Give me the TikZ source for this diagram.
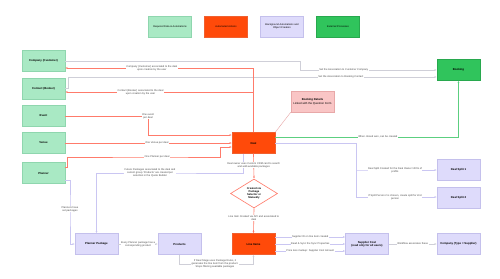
\documentclass[tikz,border=0pt]{standalone}
\usepackage{fontspec}
\setmainfont{Liberation Sans}
\usepackage{tikz}
\usetikzlibrary{arrows.meta,positioning,shapes.geometric}
\usepackage{xcolor}
\definecolor{reqgreen}{HTML}{A9E9C4}
\definecolor{reqedge}{HTML}{8FD6AE}
\definecolor{actorange}{HTML}{FF4A0A}
\definecolor{actedge}{HTML}{F06030}
\definecolor{bglav}{HTML}{DEDBFB}
\definecolor{bgedge}{HTML}{C4C0EC}
\definecolor{extgreen}{HTML}{30C45C}
\definecolor{extedge}{HTML}{28A84E}
\definecolor{pinkfill}{HTML}{F9C5C5}
\definecolor{pinkedge}{HTML}{E8A8A8}
\definecolor{redln}{HTML}{FF7B6B}
\definecolor{lavln}{HTML}{CAC6F2}
\definecolor{grayln}{HTML}{CFCFD8}
\definecolor{greenln}{HTML}{5CCF80}

\begin{document}
\begin{tikzpicture}[
      x=0.05cm, y=-0.05cm,
      box/.style={rectangle, draw, line width=0.6pt, minimum width=2.15cm, minimum height=1.05cm,
                  inner sep=1pt, align=center, font=\fontsize{4}{4.8}\selectfont\bfseries},
      reqbox/.style={box, fill=reqgreen, draw=reqedge},
      actbox/.style={box, fill=actorange, draw=actedge},
      bgbox/.style={box, fill=bglav, draw=bgedge},
      extbox/.style={box, fill=extgreen, draw=extedge},
      legend/.style={font=\fontsize{3.6}{4.3}\selectfont},
      lbl/.style={fill=white, inner sep=0.6pt, align=center, text=black!70,
                  font=\fontsize{3.7}{4.4}\selectfont},
      redline/.style={draw=redln, line width=0.9pt, -{Latex[length=3pt,width=2.6pt]}},
      lavline/.style={draw=lavln, line width=0.7pt, -{Latex[length=3pt,width=2.6pt]}},
      grayline/.style={draw=grayln, line width=0.6pt, -{Latex[length=3pt,width=2.6pt]}},
      greenline/.style={draw=greenln, line width=0.9pt, -{Latex[length=3pt,width=2.6pt]}}
    ]
    \useasboundingbox[fill=white] (0,0) rectangle (500,278);
    % Legend
    \node[reqbox, legend] (legreq) at (170,26.5) {Required Data \& Automations};
    \node[actbox, legend] (legact) at (226,26.5) {Automated Actions};
    \node[bgbox, legend]  (legbg)  at (282,26.5) {Background Automations and\\Object Creation};
    \node[extbox, legend] (legext) at (338,26.5) {External Processes};
    % Required records
    \node[reqbox] (company) at (43.5,61)  {Company (Customer)};
    \node[reqbox] (contact) at (43.5,88.5) {Contact (Booker)};
    \node[reqbox] (event)   at (43.5,116) {Event};
    \node[reqbox] (venue)   at (43.5,143) {Venue};
    \node[reqbox] (planner) at (43.5,173) {Planner};
    % Deal and its objects
    \node[extbox] (booking) at (458.5,70) {Booking};
    \node[actbox] (deal) at (253.5,143) {Deal};
    \node[box, fill=pinkfill, draw=pinkedge] (details) at (312.5,101.5)
      {Booking Details\\[1pt]{\mdseries Linked with the Question Form}};
    \node[diamond, draw=redln, fill=white, line width=0.9pt, inner sep=0pt,
          minimum width=2.35cm, minimum height=1.45cm, align=center,
          font=\fontsize{3.8}{4.4}\selectfont\bfseries] (choice) at (254,193.5)
      {Created via\\Package\\Selector or\\Manually};
    \node[actbox] (items)    at (253.5,244) {Line Items};
    \node[bgbox]  (products) at (179.5,244) {Products};
    \node[bgbox]  (package)  at (96.5,244)  {Planner Package};
    \node[bgbox]  (supplier) at (367,244)   {Supplier Cost\\(read only for all users)};
    \node[bgbox]  (supcomp)  at (458.5,244) {Company (Type = Supplier)};
    \node[bgbox]  (split1)   at (458.5,169.5) {Deal Split 1};
    \node[bgbox]  (split2)   at (458.5,198) {Deal Split 2};
    % Associations to the booking
    \draw[grayline] (company.east) -- (300,61) -- (300,70) -- (booking.west)
      node[lbl, pos=0.32] {Set the Association to Customer Company};
    \draw[grayline] (contact.east |- 0,88) -- (68,88) -- (68,77) -- (booking.west |- 0,77)
      node[lbl, pos=0.74] {Set the Association to Booking Contact};
    % Deal to required records
    \draw[redline] (deal.north) |- (company.east |- 0,68)
      node[lbl, pos=0.77] {Company (Customer) associated to the deal\\upon creation by the user};
    \draw[redline] (deal.north) |- (contact.east |- 0,92)
      node[lbl, pos=0.8] {Contact (Booker) associated to the deal\\upon creation by the user};
    \draw[redline] (event.east) -- (148,116) node[lbl] {One event\\per deal}
      -- (148,135) -- (deal.west |- 0,135);
    \draw[redline] (venue.east) -- (deal.west) node[lbl, pos=0.55] {One Venue per deal};
    \draw[redline] (planner.east |- 0,167) -- (67,167) -- (67,157)
      -- (157,157) node[lbl] {One Planner per deal}
      -- (220,157) -- (220,147) -- (deal.west |- 0,147);
    \draw[draw=pinkedge, line width=0.6pt] (deal.north east) -- (details.south west);
    % Deal to the booking and the splits
    \draw[greenline] (deal.east |- 0,137) -| (booking.south)
      node[lbl, pos=0.28] {When closed won, can be created};
    \draw[lavline] (deal.east) -- (356,143) -- (356,197)
      -- (395,197) node[lbl] {If Split Person 2 is chosen, create split for 2nd\\person}
      -- (split2.west |- 0,197);
    \draw[lavline] (356,170) -- (395,170) node[lbl] {Deal Split Created for the Deal Owner 100\% of\\profits}
      -- (split1.west |- 0,170);
    % Packages and line items
    \draw[lavline] (deal.south -| 243,0) -- (243,173)
      -- (150,173) node[lbl] {Future Packages associated to the deal and\\current group `Products' are created per\\selection in the Quote Builder}
      -- (96.5,173) -- (package.north);
    \draw[lavline] (planner.east |- 0,180) -- (70,180)
      -- (70,209) node[lbl] {Planners have\\set packages}
      -- (70,244) -- (package.west);
    \draw[grayline] (package.east) -- (products.west)
      node[lbl, midway] {Every Planner package has a\\corresponding product};
    \draw[grayline] (products.south) -- (179.5,264)
      -- (215,264) node[lbl] {If Deal Stage uses Package Rules, it\\generates the line item from the product.\\Stops filtering available packages}
      -- (253.5,264) -- (items.south);
    \draw[redline] (deal.south) -- (choice.north)
      node[lbl, pos=0.45] {Deal owner uses Custom CRM card to search\\and add available packages};
    \draw[redline] (choice.south) -- (items.north)
      node[lbl, pos=0.4] {Line Item Created via API and associated to\\deal};
    % Supplier costs
    \draw[lavline] (items.east |- 0,237) -- (supplier.west |- 0,237)
      node[lbl, midway] {Supplier ID on line item created};
    \draw[lavline] (items.east) -- (supplier.west)
      node[lbl, midway] {Read \& Sync the Sync Properties};
    \draw[lavline] (items.east |- 0,251) -- (supplier.west |- 0,251)
      node[lbl, midway] {Price less markup: Supplier Cost Amount};
    \draw[grayline] (supplier.east) -- (supcomp.west)
      node[lbl, midway] {Workflow associates these};
  \end{tikzpicture}
\end{document}
